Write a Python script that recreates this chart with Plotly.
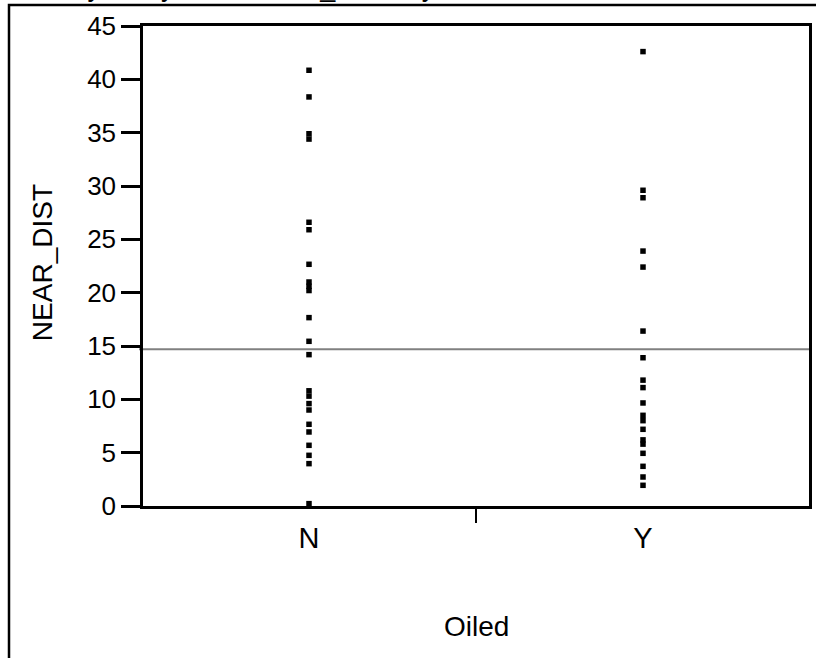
import plotly.graph_objects as go

# ---- data ----
categories = ["N", "Y"]
near_dist_N = [40.85, 38.35, 34.9, 34.4, 26.6, 25.9, 22.66, 21.0, 20.6, 20.2,
               17.66, 15.44, 14.19, 10.8, 10.3, 9.6, 9.0, 7.66, 6.94, 5.69,
               4.75, 3.97, 0.22]
near_dist_Y = [42.6, 29.6, 28.9, 23.9, 22.4, 16.4, 13.9, 11.8, 11.1, 9.66,
               8.5, 8.0, 7.19, 6.2, 5.8, 4.94, 3.72, 2.72, 1.94]
grand_mean = 14.69
y_ticks = [0, 5, 10, 15, 20, 25, 30, 35, 40, 45]
title_text = "Oneway Analysis of NEAR_DIST By Oiled"
x_title = "Oiled"
y_title = "NEAR_DIST"

FONT = "Liberation Sans, Arial, sans-serif"

fig = go.Figure()
fig.add_trace(go.Scatter(
    x=[categories[0]] * len(near_dist_N) + [categories[1]] * len(near_dist_Y),
    y=near_dist_N + near_dist_Y,
    mode="markers",
    marker=dict(color="black", size=5.5, symbol="square", line=dict(width=0)),
    showlegend=False,
    hoverinfo="x+y",
))

# grand mean line
fig.add_shape(type="line", xref="paper", yref="y",
              x0=-0.006, x1=1, y0=grand_mean, y1=grand_mean,
              line=dict(color="#808080", width=2), layer="below")

# outer report frame (top and left visible)
fig.add_shape(type="rect", xref="paper", yref="paper",
              x0=-0.2012, x1=1.3, y0=1.0437, y1=-0.6,
              line=dict(color="black", width=2.5), layer="above")

# title (mostly cut off above the window, as in the reference)
fig.add_annotation(text=title_text, xref="paper", yref="paper",
                   x=-0.2147, y=1.0465, xanchor="left", yanchor="bottom",
                   showarrow=False,
                   font=dict(family=FONT, size=27, color="black"))

# axis titles
fig.add_annotation(text=y_title, xref="paper", yref="paper",
                   x=-0.1517, y=0.508, textangle=-90,
                   xanchor="center", yanchor="middle", showarrow=False,
                   font=dict(family=FONT, size=28, color="black"))
fig.add_annotation(text=x_title, xref="paper", yref="paper",
                   x=0.5, y=-0.25, xanchor="center", yanchor="middle",
                   showarrow=False,
                   font=dict(family=FONT, size=28, color="black"))

fig.update_layout(
    width=816, height=658,
    margin=dict(l=143, r=7, t=26, b=152, autoexpand=False),
    paper_bgcolor="white", plot_bgcolor="white",
    font=dict(family=FONT, color="black"),
    xaxis=dict(
        type="category", categoryorder="array", categoryarray=categories,
        range=[-0.497, 1.497],
        showline=True, linecolor="black", linewidth=2.5, mirror=True,
        showgrid=False, zeroline=False,
        ticks="outside", tickson="boundaries", ticklen=14, tickwidth=2,
        tickcolor="black",
        tickfont=dict(family=FONT, size=29, color="black"),
        ticklabelstandoff=4,
    ),
    yaxis=dict(
        range=[0, 45], tickvals=y_ticks,
        showline=True, linecolor="black", linewidth=2.5, mirror=True,
        showgrid=False, zeroline=False,
        ticks="outside", ticklen=19, tickwidth=2.5, tickcolor="black",
        tickfont=dict(family=FONT, size=26, color="black"),
    ),
)

fig.write_html("out.html")
